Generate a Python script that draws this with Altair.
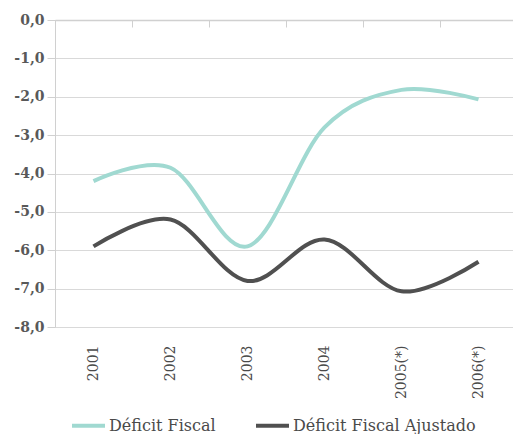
import altair as alt
import pandas as pd

years = ["2001", "2002", "2003", "2004", "2005(*)", "2006(*)"]
deficit_fiscal = [-4.2, -3.85, -5.9, -2.8, -1.82, -2.07]
deficit_ajustado = [-5.9, -5.2, -6.8, -5.72, -7.07, -6.3]
series_names = ["Déficit Fiscal", "Déficit Fiscal Ajustado"]
series_colors = ["#a0d9d1", "#505050"]
y_ticks = [0, -1, -2, -3, -4, -5, -6, -7, -8]

rows = []
for i, y in enumerate(years):
    rows.append({"year": y, "serie": series_names[0], "valor": deficit_fiscal[i], "ord": i})
    rows.append({"year": y, "serie": series_names[1], "valor": deficit_ajustado[i], "ord": i})
df = pd.DataFrame(rows)

FONT = "DejaVu Serif"
GRAY = "#595959"
AXIS_GRAY = "#d0d0d0"

xscale = alt.Scale(domain=years, range=[0, 462], paddingInner=0, paddingOuter=0)
yscale = alt.Scale(domain=[-8, 0], nice=False)

yaxis = alt.Axis(
    values=y_ticks, labelOverlap=False, tickCount=20,
    labelExpr="(datum.value < 0 ? '-' : '') + replace(format(abs(datum.value), '.1f'), '.', ',')",
    labelFont=FONT, labelFontSize=14, labelFontWeight="bold", labelColor=GRAY,
    labelPadding=3, tickSize=8, tickColor=AXIS_GRAY, domainColor=AXIS_GRAY,
    grid=True, gridColor="#d9d9d9", gridWidth=1.2, title=None,
)

topaxis = alt.Chart(df).mark_point(opacity=0).encode(
    x=alt.X("year:N", scale=xscale, sort=years, axis=alt.Axis(
        orient="bottom", offset=-307, labels=False, ticks=True, tickBand="extent",
        tickSize=7, tickColor=AXIS_GRAY, domainColor=AXIS_GRAY, domainWidth=1.5,
        grid=False, title=None,
    )),
    y=alt.Y("valor:Q", scale=yscale, axis=yaxis),
)

lines = alt.Chart(df).mark_line(strokeWidth=4, interpolate="cardinal").encode(
    x=alt.X("year:N", scale=xscale, sort=years, axis=alt.Axis(
        orient="bottom", labelAngle=-90, labelFont=FONT, labelFontSize=14,
        labelColor="#4a4a4a", labelPadding=18, ticks=False, domain=False, grid=False,
        labelOverlap=False, title=None,
    )),
    y=alt.Y("valor:Q", scale=yscale, axis=yaxis),
    color=alt.Color("serie:N", scale=alt.Scale(domain=series_names, range=series_colors),
                    legend=alt.Legend(
                        orient="none", legendX=15, legendY=387, direction="horizontal",
                        title=None, symbolType="stroke", symbolSize=1089,
                        symbolStrokeWidth=4, labelFont=FONT, labelFontSize=16,
                        labelColor="#4a4a4a", labelOffset=2, columnPadding=32,
                        labelLimit=400,
                    )),
    order="ord:Q",
)

chart = alt.layer(topaxis, lines).resolve_axis(x="independent").properties(
    width=458, height=307,
    padding={"left": 55, "top": 20, "right": 0, "bottom": 107},
    autosize=alt.AutoSizeParams(type="none"),
).configure_view(stroke=None).configure(background="white")

chart.save("out.html", embed_options={"renderer": "svg", "actions": False})
